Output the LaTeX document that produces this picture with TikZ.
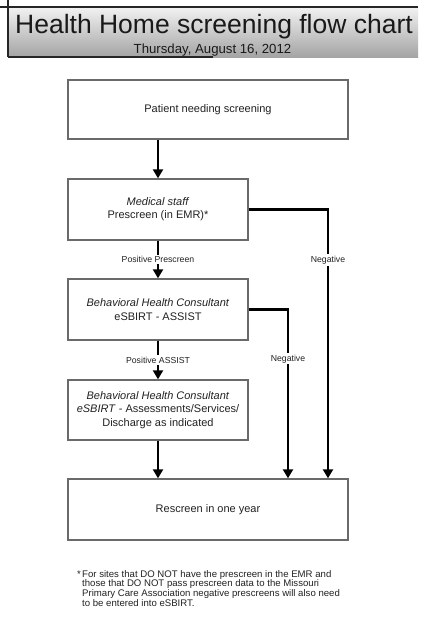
\documentclass[tikz,border=0pt]{standalone}
\usepackage{fontspec}
\setmainfont{Liberation Sans}
\usetikzlibrary{arrows.meta}
\definecolor{boxline}{HTML}{6A6A6A}
\definecolor{txt}{HTML}{222222}
\definecolor{shadetop}{HTML}{F2F2F2}
\definecolor{shadebot}{HTML}{A4A4A4}
\begin{document}
\begin{tikzpicture}[x=1pt,y=-1pt,
  box/.style={draw=boxline,line width=1.4pt,fill=white,inner sep=2pt,align=center,
    font=\fontsize{11}{13.3}\selectfont,text=txt},
  arr/.style={line width=2.2pt,-{Triangle[length=9pt,width=10pt]}},
  lab/.style={fill=white,inner sep=1.5pt,font=\fontsize{8.7}{10}\selectfont,text=txt}]
\useasboundingbox[fill=white] (0,0) rectangle (424,621);
% title banner
\shade[top color=shadetop,bottom color=shadebot] (8,7) rectangle (418,57);
\draw[line width=1.3pt,black!85] (0,7) -- (418,7);
\draw[line width=1.3pt,black!85] (8,0) -- (8,57);
\draw[line width=1.3pt,black!85] (8,57) -- (213,57);
\node[anchor=base,inner sep=0pt,font=\fontsize{26.5}{30}\selectfont,text=black!90] (title) at (214,33) {Health Home screening flow chart};
\node[anchor=base,inner sep=0pt,font=\fontsize{13.2}{15}\selectfont,text=black!90] (date) at (212.5,53) {Thursday, August 16, 2012};
% boxes
\node[box,minimum width=280pt,minimum height=59pt] (p) at (208,109.5) {Patient needing screening};
\node[box,minimum width=180pt,minimum height=61pt] (m) at (158,209.5) {\textit{Medical staff}\\Prescreen (in EMR)*};
\node[box,minimum width=180pt,minimum height=61pt] (b) at (158,309.5) {\textit{Behavioral Health Consultant}\\eSBIRT - ASSIST};
\node[box,minimum width=180pt,minimum height=60pt] (d) at (158,410) {\textit{Behavioral Health Consultant}\\\textit{eSBIRT} - Assessments/Services/\\Discharge as indicated};
\node[box,minimum width=280pt,minimum height=61pt] (r) at (208,509.5) {Rescreen in one year};
% connectors
\coordinate (n1) at (328,0);
\coordinate (n2) at (288,0);
\draw[arr] (m.north |- p.south) -- (m.north);
\draw[arr] (m.south) -- (b.north) node[lab,midway] {Positive Prescreen};
\draw[arr] (b.south) -- (d.north) node[lab,midway] {Positive ASSIST};
\draw[arr] (d.south) -- (d.south |- r.north);
\draw[arr] (m.east) -| (n1 |- r.north) node[lab,pos=0.594] {Negative};
\draw[arr] (b.east) -| (n2 |- r.north) node[lab,pos=0.646] {Negative};
% footnote
\node[anchor=north west,inner sep=0pt,align=left,font=\fontsize{9.6}{9.8}\selectfont,text=txt] (note) at (77,570)
 {\makebox[5pt][l]{*}For sites that DO NOT have the prescreen in the EMR and\\
  \hspace*{5pt}those that DO NOT pass prescreen data to the Missouri\\
  \hspace*{5pt}Primary Care Association negative prescreens will also need\\
  \hspace*{5pt}to be entered into eSBIRT.};
\end{tikzpicture}
\end{document}
